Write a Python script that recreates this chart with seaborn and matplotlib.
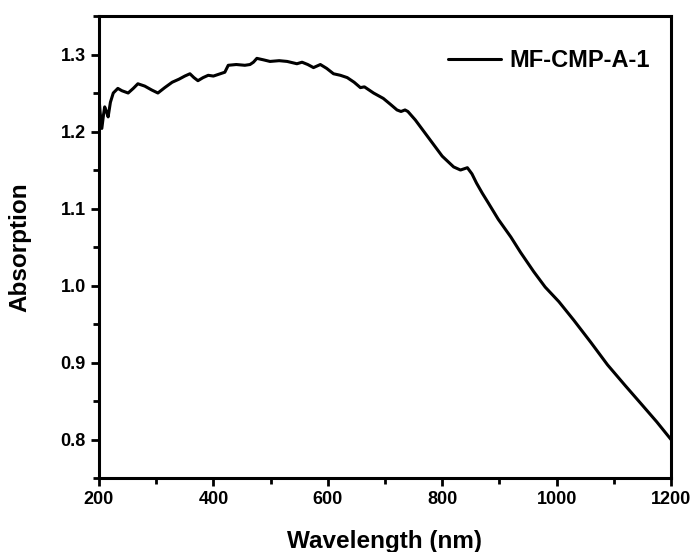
import numpy as np
import pandas as pd
import matplotlib.pyplot as plt
import seaborn as sns
from matplotlib.ticker import MultipleLocator

# 数据
wavelength = [200, 202, 205, 208, 210, 213, 216, 220, 225, 233, 240, 251, 260, 268,
              280, 292, 303, 315, 328, 340, 350, 359, 366, 373, 382, 391, 400, 412,
              420, 426, 440, 455, 464, 470, 476, 488, 499, 515, 529, 546, 555, 565,
              575, 581, 587, 598, 610, 622, 634, 646, 657, 664, 668, 680, 697, 710,
              721, 728, 735, 740, 753, 765, 780, 800, 820, 832, 844, 852, 860, 870,
              880, 898, 920, 937, 960, 980, 1004, 1030, 1060, 1089, 1120, 1147, 1175,
              1200]
absorption = [1.244, 1.225, 1.204, 1.222, 1.232, 1.226, 1.219, 1.238, 1.250, 1.256,
              1.253, 1.250, 1.256, 1.262, 1.259, 1.254, 1.250, 1.257, 1.264, 1.268,
              1.272, 1.275, 1.270, 1.266, 1.270, 1.273, 1.272, 1.275, 1.277, 1.286,
              1.287, 1.286, 1.287, 1.290, 1.295, 1.293, 1.291, 1.292, 1.291, 1.288,
              1.290, 1.287, 1.283, 1.285, 1.287, 1.282, 1.275, 1.273, 1.270, 1.264,
              1.257, 1.258, 1.256, 1.250, 1.243, 1.235, 1.228, 1.226, 1.228, 1.226,
              1.215, 1.203, 1.188, 1.168, 1.154, 1.150, 1.153, 1.145, 1.133, 1.120,
              1.108, 1.086, 1.063, 1.043, 1.018, 0.998, 0.979, 0.955, 0.926, 0.897,
              0.870, 0.847, 0.823, 0.800]
series_name = 'MF-CMP-A-1'

sns.set_style('ticks')
plt.rcParams['font.family'] = ['Liberation Sans', 'DejaVu Sans']
plt.rcParams['font.weight'] = 'bold'
for key in ['text.color', 'axes.labelcolor', 'xtick.color', 'ytick.color', 'axes.edgecolor']:
    plt.rcParams[key] = 'black'

df = pd.DataFrame({'Wavelength': wavelength, 'Absorption': absorption})

fig = plt.figure(figsize=(6.95, 5.52), dpi=100)
ax = fig.add_axes([0.1424, 0.134, 0.8231, 0.837])

sns.lineplot(data=df, x='Wavelength', y='Absorption', color='black', linewidth=2.2,
             label=series_name, ax=ax)

ax.set_xlim(200, 1200)
ax.set_ylim(0.75, 1.35)
ax.xaxis.set_major_locator(MultipleLocator(200))
ax.xaxis.set_minor_locator(MultipleLocator(100))
ax.yaxis.set_minor_locator(MultipleLocator(0.05))
ax.tick_params(which='major', direction='out', length=6, width=2, labelsize=13)
ax.tick_params(which='minor', direction='out', length=4, width=2)
ax.set_yticks([0.8, 0.9, 1.0, 1.1, 1.2, 1.3])
ax.set_yticklabels(['0.8', '0.9', '1.0', '1.1', '1.2', '1.3'])
for lbl in ax.get_xticklabels() + ax.get_yticklabels():
    lbl.set_fontweight('bold')

for sp in ax.spines.values():
    sp.set_visible(True)
    sp.set_linewidth(2.2)

ax.set_xlabel('Wavelength (nm)', fontsize=17.5, fontweight='bold', labelpad=16)
ax.set_ylabel('Absorption', fontsize=17.5, fontweight='bold', labelpad=21)

leg = ax.legend(loc='upper right', bbox_to_anchor=(1.0, 0.974), frameon=False,
                prop={'size': 17, 'weight': 'bold'},
                handlelength=2.25, handletextpad=0.35, borderaxespad=0.5)

fig.savefig('out.png', dpi=100)
